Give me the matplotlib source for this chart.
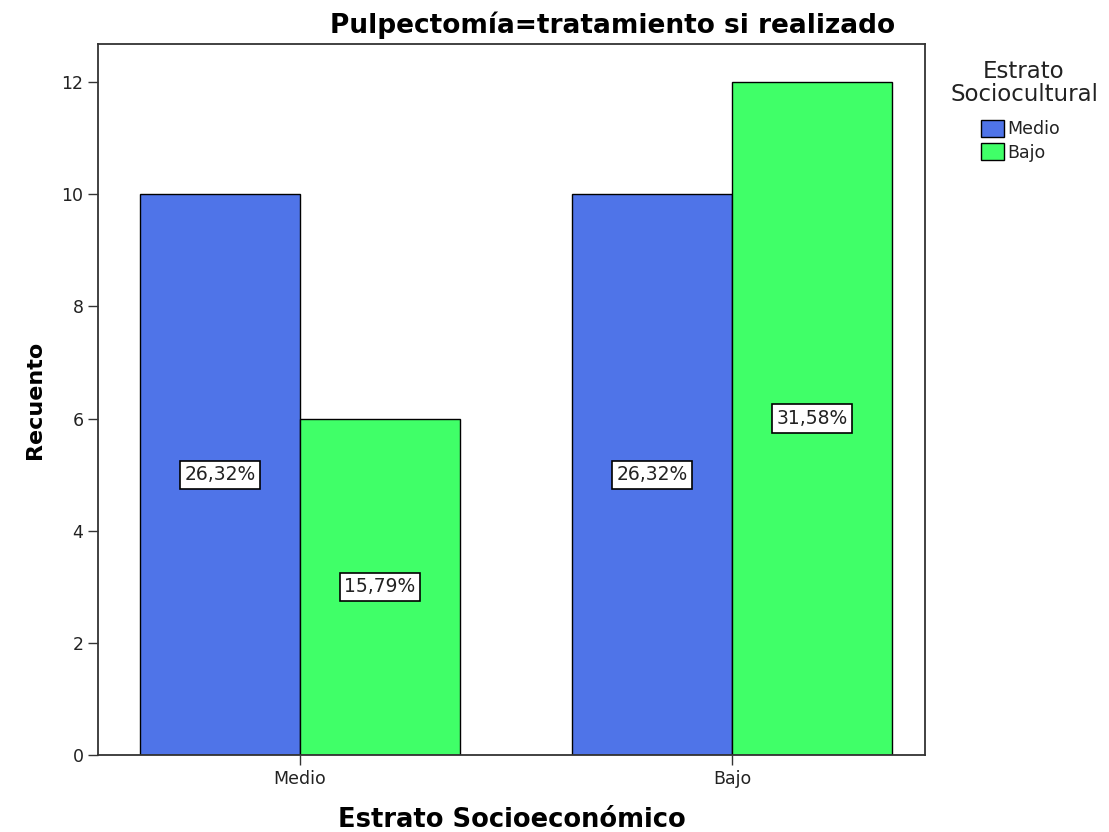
import numpy as np
import matplotlib
matplotlib.use("Agg")
import matplotlib.pyplot as plt
from matplotlib.patches import Patch

plt.rcParams['font.family'] = ['DejaVu Sans']

categories = ["Medio", "Bajo"]
series_names = ["Medio", "Bajo"]
counts_medio = [10, 10]
counts_bajo = [6, 12]
pct_medio = ["26,32%", "26,32%"]
pct_bajo = ["15,79%", "31,58%"]
colors = ["#4F74E8", "#40FF68"]

fig = plt.figure(figsize=(11.09, 8.32), dpi=100)
ax = fig.add_axes([0.0884, 0.0925, 0.7457, 0.8545])

x = np.arange(len(categories))
w = 0.37
b1 = ax.bar(x - w / 2, counts_medio, w, color=colors[0], edgecolor="black", linewidth=1.0)
b2 = ax.bar(x + w / 2, counts_bajo, w, color=colors[1], edgecolor="black", linewidth=1.0)

# percentage labels in white boxes at mid-height of each bar
box = dict(boxstyle="square,pad=0.25", fc="white", ec="black", lw=1.2)
for bars, labs in ((b1, pct_medio), (b2, pct_bajo)):
    for r, lab in zip(bars, labs):
        ax.text(r.get_x() + r.get_width() / 2, r.get_height() / 2, lab,
                ha="center", va="center", fontsize=13.5, color="#222222", bbox=box)

ax.set_xlim(-0.4676, 1.4468)
ax.set_ylim(0, 12.68)
ax.set_yticks([0, 2, 4, 6, 8, 10, 12])
ax.set_xticks(x)
ax.set_xticklabels(categories)
ax.tick_params(axis="both", labelsize=12.5, length=7, width=1, colors="#333333", labelcolor="#222222")
for s in ax.spines.values():
    s.set_linewidth(1.3)
    s.set_color("#333333")

ax.set_ylabel("Recuento", fontsize=16, fontweight="bold", labelpad=12)
ax.set_xlabel("Estrato Socioeconómico", fontsize=18.5, fontweight="bold", labelpad=14)

fig.text(613 / 1109, 1 - 25 / 832, "Pulpectomía=tratamiento si realizado",
         ha="center", va="center", fontsize=19, fontweight="bold")

# legend title drawn separately so it can sit centred above the entries
fig.text(1024 / 1109, 1 - 83 / 832, "Estrato\nSociocultural", ha="center", va="center",
         multialignment="center", fontsize=16.5, color="#222222", linespacing=1.05)
handles = [Patch(facecolor=c, edgecolor="black", label=n) for c, n in zip(colors, series_names)]
leg = fig.legend(handles=handles, loc="upper left",
                 bbox_to_anchor=(981 / 1109, 1 - 120 / 832), frameon=False,
                 fontsize=12.5, handlelength=1.3, handleheight=1.1,
                 handletextpad=0.2, labelspacing=0.3, borderpad=0, borderaxespad=0)
for t in leg.get_texts():
    t.set_color("#222222")

fig.savefig("out.png", dpi=100)
